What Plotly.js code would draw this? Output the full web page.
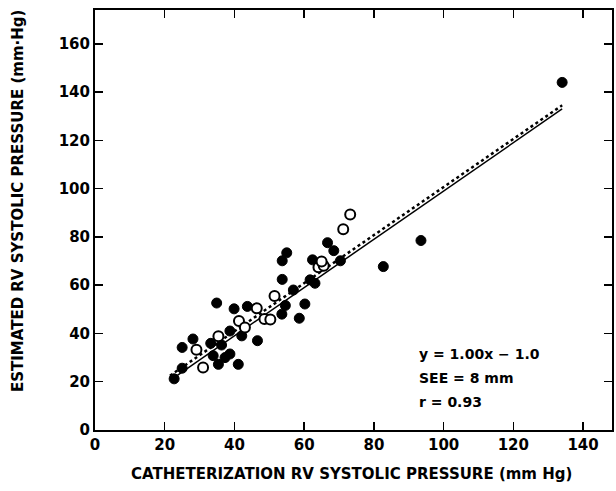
<!DOCTYPE html>
<html>
<head>
<meta charset="utf-8">
<script src="https://cdn.plot.ly/plotly-3.0.1.min.js"></script>
<style>html,body{margin:0;padding:0;background:#fff;}#chart{width:616px;height:491px;}</style>
</head>
<body>
<div id="chart"></div>
<script>
// Filled circles (catheterization vs estimated RV systolic pressure, mm Hg)
const filledX = [22.7, 25.0, 25.0, 28.1, 33.2, 33.9, 34.9, 36.3, 35.4, 37.3, 38.7, 41.1, 38.7, 39.9, 42.1, 43.7, 46.6, 53.6, 54.6, 53.7, 53.7, 55.0, 56.9, 58.6, 60.2, 61.7, 63.1, 62.4, 66.7, 68.5, 70.4, 82.7, 93.5, 134.0];
const filledY = [21.2, 25.6, 34.2, 37.7, 35.9, 30.8, 52.6, 35.2, 27.2, 30.0, 31.5, 27.2, 41.0, 50.2, 39.0, 51.2, 37.0, 48.0, 51.6, 62.4, 70.1, 73.4, 58.0, 46.3, 52.2, 62.2, 60.8, 70.5, 77.6, 74.3, 70.1, 67.7, 78.5, 144.0];
// Open circles
const openX = [29.1, 31.0, 35.4, 41.3, 43.0, 46.4, 48.6, 50.3, 51.5, 64.1, 65.6, 65.0, 71.2, 73.2];
const openY = [33.2, 25.9, 38.8, 45.2, 42.5, 50.4, 46.0, 45.8, 55.5, 67.4, 68.0, 69.8, 83.2, 89.3];
// Regression line (solid) and comparison line (dotted)
const solidX = [23, 134];
const solidY = [22, 133];
const dottedX = [21.5, 134];
const dottedY = [22.5, 134.5];
// Axis ticks
const xTicks = [0, 20, 40, 60, 80, 100, 120, 140];
const yTicks = [0, 20, 40, 60, 80, 100, 120, 140, 160];
const statLines = ["y = 1.00x − 1.0", "SEE = 8 mm", "r = 0.93"];
const statY = [31.5, 21.5, 11.5];

const FONT = "DejaVu Sans, Liberation Sans, Arial, sans-serif";

const traces = [
  {x: dottedX, y: dottedY, mode: 'lines', line: {color: '#000', width: 2.5, dash: 'dot'}, hoverinfo: 'skip'},
  {x: solidX, y: solidY, mode: 'lines', line: {color: '#000', width: 1.5}, hoverinfo: 'skip'},
  {x: filledX, y: filledY, mode: 'markers', marker: {size: 10, color: '#000', line: {color: '#000', width: 1}}},
  {x: openX, y: openY, mode: 'markers', marker: {size: 10, color: '#fff', line: {color: '#000', width: 2}}}
];

const axisCommon = {
  showgrid: false, zeroline: false, showline: true, linecolor: '#000', linewidth: 2,
  mirror: 'ticks', ticks: 'inside', ticklen: 8, tickwidth: 1.5, tickcolor: '#000',
  tickfont: {family: FONT, size: 15, color: '#000', weight: 'bold'}
};

const annotations = statLines.map((t, i) => ({
  x: 92.5, y: statY[i], xref: 'x', yref: 'y', text: t, showarrow: false,
  xanchor: 'left', yanchor: 'middle',
  font: {family: FONT, size: 14, color: '#000', weight: 'bold'}
}));
annotations.push({
  x: 0.497, y: -0.105, xref: 'paper', yref: 'paper', showarrow: false,
  text: 'CATHETERIZATION RV SYSTOLIC PRESSURE (mm Hg)',
  xanchor: 'center', yanchor: 'middle',
  font: {family: FONT, size: 15, color: '#000', weight: 'bold'}
});
annotations.push({
  x: -0.149, y: 0.545, xref: 'paper', yref: 'paper', showarrow: false, textangle: -90,
  text: 'ESTIMATED RV SYSTOLIC PRESSURE (mm·Hg)',
  xanchor: 'center', yanchor: 'middle',
  font: {family: FONT, size: 15, color: '#000', weight: 'bold'}
});

const layout = {
  width: 616, height: 491,
  margin: {l: 95, r: 4, t: 10, b: 61},
  paper_bgcolor: '#fff', plot_bgcolor: '#fff',
  showlegend: false,
  xaxis: Object.assign({}, axisCommon, {range: [0, 148.3], tickvals: xTicks, ticktext: xTicks.map(String)}),
  yaxis: Object.assign({}, axisCommon, {range: [0, 174], tickvals: yTicks, ticktext: yTicks.map(String)}),
  annotations: annotations
};

Plotly.newPlot('chart', traces, layout, {displayModeBar: false, staticPlot: true});
</script>
</body>
</html>
